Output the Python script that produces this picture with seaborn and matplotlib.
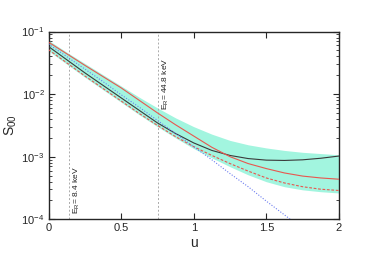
import numpy as np
import pandas as pd
import matplotlib
matplotlib.use("Agg")
import matplotlib.pyplot as plt
import seaborn as sns
from matplotlib.ticker import LogLocator, NullFormatter, FixedLocator

u = [0, 0.125, 0.25, 0.375, 0.5, 0.625, 0.75, 0.875, 1.0,
     1.125, 1.25, 1.375, 1.5, 1.625, 1.75, 1.875, 2.0]

# log10 of S00
black_solid = [-1.24, -1.45, -1.66, -1.86, -2.06, -2.26, -2.46, -2.63, -2.78,
               -2.90, -2.98, -3.03, -3.055, -3.06, -3.05, -3.025, -2.99]
red_solid = [-1.17, -1.355, -1.54, -1.72, -1.90, -2.10, -2.30, -2.49, -2.67,
             -2.85, -3.00, -3.11, -3.19, -3.26, -3.31, -3.34, -3.36]
red_dashed = [-1.29, -1.50, -1.71, -1.91, -2.11, -2.31, -2.50, -2.68, -2.84,
              -2.98, -3.11, -3.23, -3.34, -3.42, -3.48, -3.52, -3.54]
blue_dotted = [-1.20, -1.40, -1.60, -1.80, -2.01, -2.21, -2.42, -2.63, -2.84,
               -3.05, -3.27, -3.48, -3.71, -3.93, -4.15, -4.37, -4.60]
band_top = [-1.14, -1.33, -1.51, -1.69, -1.87, -2.05, -2.22, -2.38, -2.52,
            -2.64, -2.74, -2.81, -2.86, -2.90, -2.93, -2.95, -2.97]
band_bottom = [-1.31, -1.52, -1.73, -1.93, -2.13, -2.33, -2.52, -2.70, -2.87,
               -3.02, -3.16, -3.29, -3.40, -3.48, -3.53, -3.56, -3.58]

e_lines = [0.138, 0.751]
e_labels = ["E$_R$= 8.4 keV", "E$_R$= 44.8 keV"]
e_text_y = [1.2e-4, 5.6e-3]

df = pd.DataFrame({"u": u})
for name, vals in [("black", black_solid), ("red", red_solid), ("reddash", red_dashed),
                   ("blue", blue_dotted), ("top", band_top), ("bot", band_bottom)]:
    df[name] = 10.0 ** np.array(vals)

sns.set_style("ticks")
plt.rcParams["font.family"] = ["Liberation Sans", "DejaVu Sans"]
plt.rcParams["mathtext.fontset"] = "custom"
plt.rcParams["mathtext.rm"] = "Liberation Sans"
plt.rcParams["mathtext.it"] = "Liberation Sans"

fig = plt.figure(figsize=(3.74, 2.61), dpi=100)
ax = fig.add_axes([0.130, 0.160, 0.776, 0.719])

ax.fill_between(df["u"], df["bot"], df["top"], color="#a2f5df", lw=0, zorder=1)
sns.lineplot(data=df, x="u", y="black", ax=ax, color="#3a3a3a", lw=0.8, zorder=3)
sns.lineplot(data=df, x="u", y="red", ax=ax, color="#e8574f", lw=0.8, zorder=3)
sns.lineplot(data=df, x="u", y="reddash", ax=ax, color="#e8574f", lw=0.8,
             linestyle=(0, (2.5, 1.5)), zorder=3)
sns.lineplot(data=df, x="u", y="blue", ax=ax, color="#6b7cf0", lw=0.8,
             linestyle=(0, (1, 1.5)), zorder=3)

for xv, lab, ty in zip(e_lines, e_labels, e_text_y):
    ax.axvline(xv, color="#aaaaaa", lw=0.7, linestyle=(0, (2, 2)), zorder=2)
    ax.text(xv + 0.055, ty, lab, rotation=90, fontsize=6, ha="center",
            va="bottom", color="#222222")

ax.set_yscale("log")
ax.set_xlim(0, 2)
ax.set_ylim(1e-4, 1e-1)
ax.xaxis.set_major_locator(FixedLocator([0, 0.5, 1, 1.5, 2]))
ax.set_xticklabels(["0", "0.5", "1", "1.5", "2"])
ax.yaxis.set_major_locator(LogLocator(base=10, numticks=10))
ax.yaxis.set_minor_locator(LogLocator(base=10, subs=np.arange(2, 10), numticks=10))
ax.yaxis.set_minor_formatter(NullFormatter())
ax.tick_params(which="both", direction="in", top=True, right=True, labelsize=8, pad=3)
ax.tick_params(which="major", length=4, width=0.8)
ax.tick_params(which="minor", length=2, width=0.6)
for s in ax.spines.values():
    s.set_linewidth(1.0)

ax.set_xlabel("u", fontsize=10, labelpad=2)
ax.set_ylabel("S$_{00}$", fontsize=10, labelpad=2)

fig.savefig("out.png", dpi=100)
